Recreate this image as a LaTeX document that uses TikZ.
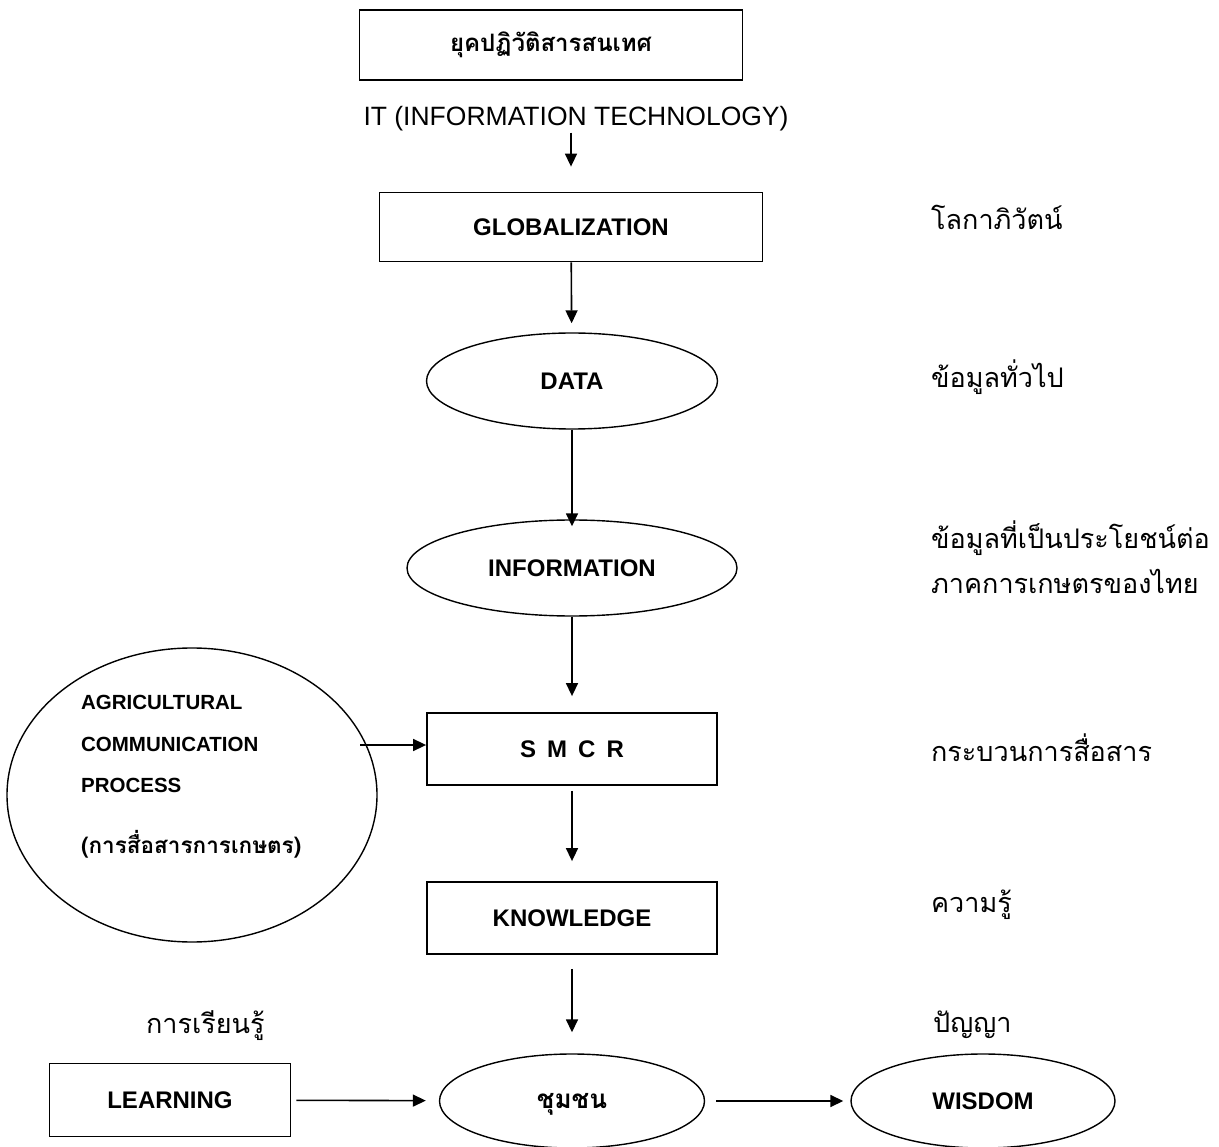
\documentclass[tikz,border=0pt]{standalone}
\usepackage{fontspec}
\setmainfont{Liberation Sans}
\newfontfamily\thaifont[Script=Thai]{Loma}
\usetikzlibrary{shapes.geometric,arrows.meta}

\begin{document}
\begin{tikzpicture}[x=1pt,y=-1pt,line width=1.6pt,>={Triangle[length=13pt,width=12pt]},
	box/.style={draw,rectangle,inner sep=0pt,line width=1.8pt,minimum height=71pt,font=\bfseries\fontsize{24}{28}\selectfont},
	oval/.style={draw,ellipse,inner sep=0pt,minimum height=95pt,line width=1.4pt,font=\bfseries\fontsize{24}{28}\selectfont},
	thbold/.style={font=\thaifont\bfseries\fontsize{24}{28}\selectfont},
	acptext/.style={anchor=base west,font=\bfseries\fontsize{20.5}{24}\selectfont},
	th/.style={anchor=base west,font=\thaifont\fontsize{27}{32}\selectfont}]
	\useasboundingbox (0,0) rectangle (1219,1147);
	\node[box,thbold,minimum width=383pt,minimum height=70pt] (top) at (551,45) {ยุคปฏิวัติสารสนเทศ};
	\node[anchor=base,font=\fontsize{26.5}{30}\selectfont] (it) at (576,126) {IT (INFORMATION TECHNOLOGY)};
	\node[box,minimum width=383pt,minimum height=69pt] (glob) at (571,227) {GLOBALIZATION};
	\node[oval,minimum width=291pt,minimum height=96pt] (data) at (572,381) {DATA};
	\node[oval,minimum width=330pt,minimum height=96pt] (info) at (572,568) {INFORMATION};
	\node[box,minimum width=290pt,minimum height=72pt] (smcr) at (572,749) {\spaceskip=11pt S M C R};
	\node[box,minimum width=290pt,minimum height=72pt] (know) at (572,918) {KNOWLEDGE};
	\node[box,minimum width=241pt,minimum height=73pt] (learn) at (170,1100) {LEARNING};
	\node[oval,font=\thaifont\bfseries\fontsize{26}{30}\selectfont,text depth=0pt,minimum width=265pt,minimum height=94pt] (comm) at (572,1101) {ชุมชน};
	\node[oval,minimum width=264pt,minimum height=94pt] (wis) at (983,1101) {WISDOM};
	\node[draw,ellipse,line width=1.4pt,minimum width=370pt,minimum height=294pt] (acp) at (192,795) {};
	\node[acptext] (acp1) at (77,709) {AGRICULTURAL};
	\node[acptext] (acp2) at (77,751) {COMMUNICATION};
	\node[acptext] (acp3) at (77,792) {PROCESS};
	\node[acptext,font=\thaifont\bfseries\fontsize{22.5}{26}\selectfont] (acp4) at (77,853) {(การสื่อสารการเกษตร)};
	\node[th] (l1) at (927,230) {โลกาภิวัตน์};
	\node[th] (l2) at (927,388) {ข้อมูลทั่วไป};
	\node[th] (l3) at (927,548) {ข้อมูลที่เป็นประโยชน์ต่อ};
	\node[th] (l4) at (927,593) {ภาคการเกษตรของไทย};
	\node[th] (l5) at (927,761) {กระบวนการสื่อสาร};
	\node[th] (l6) at (927,912) {ความรู้};
	\node[th] (l7) at (929,1032) {ปัญญา};
	\node[th] (l8) at (142,1033) {การเรียนรู้};
	\draw[->,shorten <=-3pt,shorten >=25pt] (it.south -| glob.north) -- (glob.north);
	\draw[->,shorten >=9pt] (glob) -- (data);
	\draw[->,shorten >=-7pt] (data) -- (info);
	\draw[->,shorten >=16pt] (info) -- (smcr);
	\draw[->,shorten <=5pt,shorten >=20pt] (smcr) -- (know);
	\draw[->,shorten <=14pt,shorten >=21pt] (know) -- (comm);
	\draw[->,shorten <=5pt,shorten >=13pt] (learn) -- (comm);
	\draw[->,shorten <=11pt,shorten >=7pt] (comm) -- (wis);
	\coordinate (acpout) at (360,745);
	\draw[->] (acpout) -- (acpout -| smcr.west);
\end{tikzpicture}
\end{document}
